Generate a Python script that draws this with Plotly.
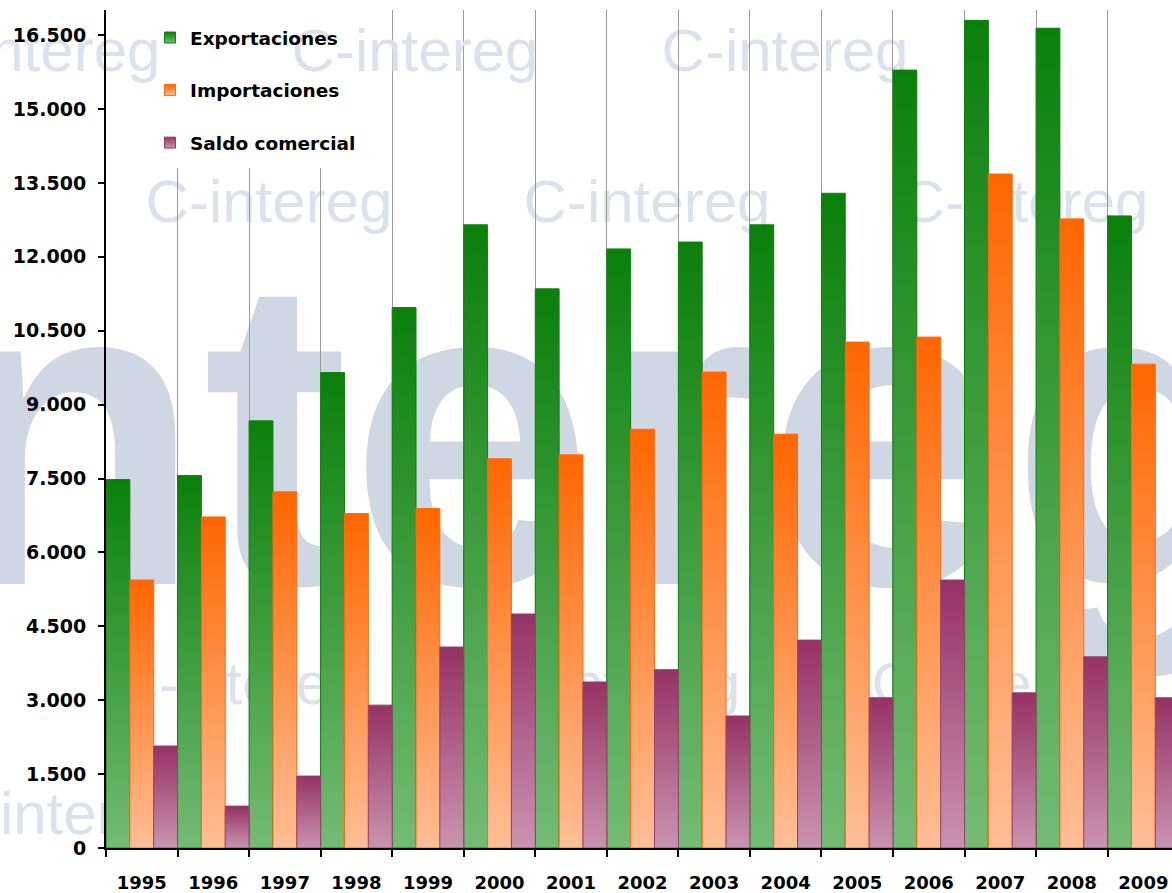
import plotly.graph_objects as go

# ---- data -------------------------------------------------------------
years = [str(y) for y in range(1995, 2010)]
exportaciones = [7480, 7560, 8670, 9650, 10970, 12650, 11350, 12160,
                 12300, 12650, 13290, 15790, 16800, 16640, 12830]
importaciones = [5440, 6720, 7230, 6790, 6890, 7900, 7980, 8500,
                 9660, 8400, 10270, 10370, 13680, 12770, 9820]
saldo_comercial = [2070, 850, 1460, 2900, 4080, 4750, 3370, 3620,
                   2680, 4220, 3050, 5440, 3150, 3880, 3050]
y_ticks = list(range(0, 16501, 1500))

# ---- styling ------------------------------------------------------------
series = [
    ("Exportaciones", exportaciones, "#0a800a", "#74bb74", "#0f820f"),
    ("Importaciones", importaciones, "#ff6600", "#ffbe96", "#ff6a0a"),
    ("Saldo comercial", saldo_comercial, "#963264", "#c993b1", "#94406e"),
]
FONT = "DejaVu Sans"
Y_MAX = 17010
X_RANGE = [-0.5, 14.40]

# plot-area geometry (pixels) used to place the background logo texts
L, T, R, B = 106, 10, 1172, 848


def to_paper(px, py):
    return (px - L) / (R - L), (B - py) / (B - T)


def to_data(px, py):
    xs = (X_RANGE[1] - X_RANGE[0]) / (R - L)
    ys = Y_MAX / (B - T)
    return X_RANGE[0] + (px - L) * xs, (B - py) * ys


fig = go.Figure()

n_series = len(series)
for k, (name, vals, dark, light, edge) in enumerate(series):
    for i, v in enumerate(vals):
        x0 = i - 0.5 + k / n_series
        x1 = x0 + 1 / n_series
        fig.add_trace(go.Scatter(
            x=[x0, x0, x1, x1, x0], y=[0, v, v, 0, 0],
            mode="lines", fill="toself",
            line=dict(color=edge, width=1),
            fillgradient=dict(type="vertical", start=0, stop=v,
                              colorscale=[[0, light], [1, dark]]),
            hoverinfo="skip", showlegend=False, legendgroup=name,
        ))
    # legend entry
    fig.add_trace(go.Scatter(
        x=[None], y=[None], mode="markers", name=name, legendgroup=name,
        marker=dict(symbol="square", size=11, color=dark,
                    gradient=dict(type="vertical", color=light),
                    line=dict(color=edge, width=1)),
    ))

# ---- background "intereg" logo texts ---------------------------------
BIG_COLOR = "rgb(206,215,227)"
SMALL_COLOR = "rgb(219,226,236)"
LOGO_FONT = "Liberation Sans, Arial, sans-serif"


def logo_label(text, cx, cy, size, color, layer="below", ref="paper"):
    if ref == "paper":
        x, y = to_paper(cx, cy)
        xref, yref = "paper", "paper"
        ex, ey = 0.0005, 0.0005
    else:
        x, y = to_data(cx, cy)
        xref, yref = "x", "y"
        ex, ey = 0.002, 5
    return dict(type="rect", xref=xref, yref=yref,
                x0=x - ex, x1=x + ex, y0=y - ey, y1=y + ey,
                line=dict(width=0), fillcolor="rgba(0,0,0,0)", layer=layer,
                label=dict(text=text, textposition="middle center",
                           font=dict(family=LOGO_FONT, size=size, color=color)))


SMALL_W = 246   # width of the small logo text
shapes = [logo_label("<b>intereg</b>", 545, 391, 440, BIG_COLOR)]
small_rows = [
    (44, [-86, 662]),
    (195, [146, 524, 902]),
    (677, [116, 494, 872]),
    (807, [-63, 315, 693]),
]
for cy, lefts in small_rows:
    for lx in lefts:
        shapes.append(logo_label("C-intereg", lx + SMALL_W / 2, cy, 60, SMALL_COLOR))

# white legend panel hides the grid lines behind the legend
wx0, wy0 = to_data(163, 168)
wx1, wy1 = to_data(385, T)
shapes.append(dict(type="rect", xref="x", yref="y", x0=wx0, x1=wx1, y0=wy0, y1=wy1,
                   line=dict(width=0), fillcolor="white", layer="between"))
shapes.append(logo_label("C-intereg", 292 + SMALL_W / 2, 44, 60, SMALL_COLOR,
                         layer="between", ref="data"))

fig.update_layout(
    width=1172, height=893,
    margin=dict(l=L, r=0, t=T, b=893 - B, autoexpand=False),
    paper_bgcolor="white", plot_bgcolor="rgba(0,0,0,0)",
    separators=",.",
    hovermode=False,
    shapes=shapes,
    legend=dict(x=to_paper(150, 0)[0], y=to_paper(0, 19)[1],
                xanchor="left", yanchor="top",
                bgcolor="rgba(0,0,0,0)", tracegroupgap=25.5,
                font=dict(family=FONT, size=18.5, color="black", weight="bold")),
    xaxis=dict(
        range=X_RANGE, tickmode="array", tickvals=list(range(len(years))),
        ticktext=years, ticks="", showgrid=False, zeroline=False,
        showline=True, linecolor="black", linewidth=2,
        tickfont=dict(family=FONT, size=18, color="black", weight="bold"),
        ticklabelstandoff=17,
        minor=dict(tickmode="linear", tick0=-0.5, dtick=1, ticks="outside",
                   ticklen=7, tickcolor="black", tickwidth=1.5,
                   showgrid=True, gridcolor="#9a9a9a", gridwidth=1),
    ),
    yaxis=dict(
        range=[0, Y_MAX], tickmode="array", tickvals=y_ticks, tickformat=",d",
        ticks="outside", ticklen=6, tickcolor="black", tickwidth=1.5,
        showline=True, linecolor="black", linewidth=2,
        showgrid=False, zeroline=False,
        tickfont=dict(family=FONT, size=19, color="black", weight="bold"),
        ticklabelstandoff=8,
    ),
)

fig.write_html("out.html")
